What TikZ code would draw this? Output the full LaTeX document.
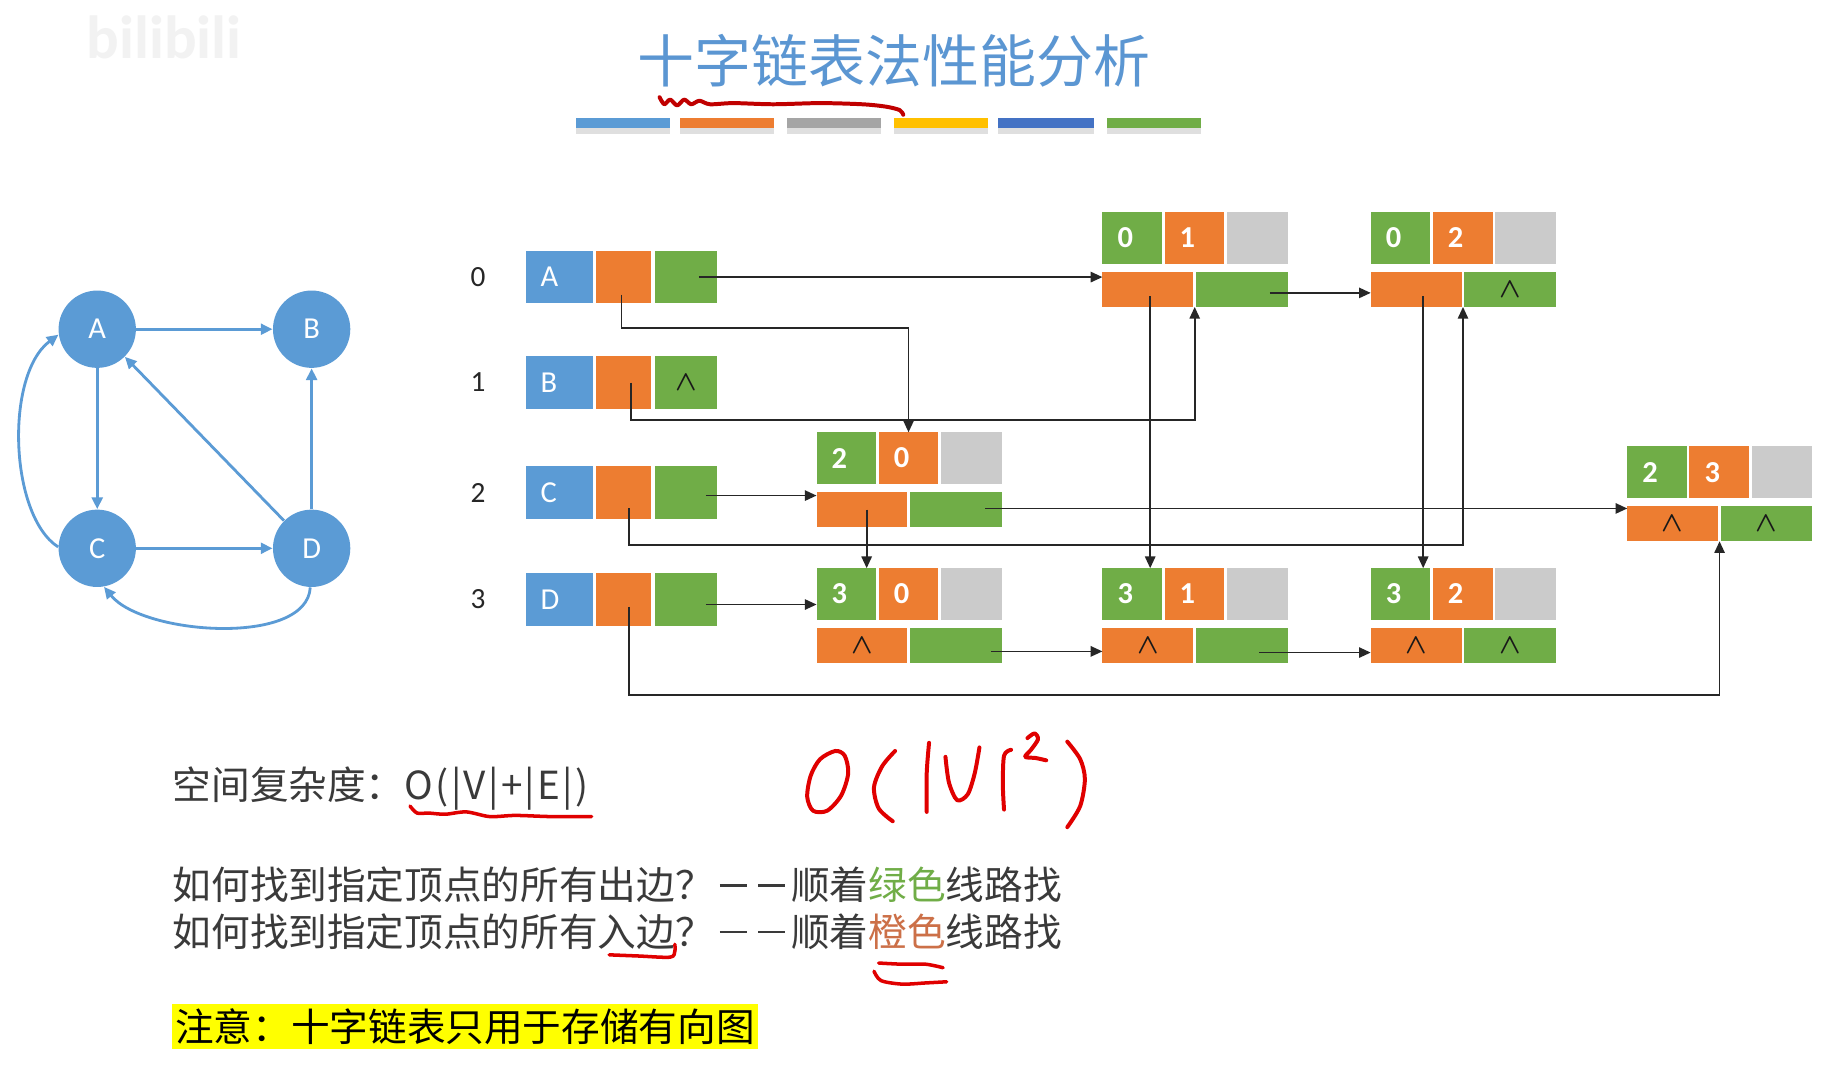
\documentclass[tikz,border=0pt]{standalone}
\usepackage{fontspec}
\setmainfont{Carlito}
\newfontfamily\cjk{Noto Sans CJK SC}
\usetikzlibrary{arrows.meta,calc}
\definecolor{cblue}{HTML}{5B9BD5}
\definecolor{corange}{HTML}{ED7D31}
\definecolor{cgreen}{HTML}{70AD47}
\definecolor{cgray}{HTML}{CBCBCB}
\definecolor{bargray}{HTML}{A5A5A5}
\definecolor{cyellow}{HTML}{FFC000}
\definecolor{cdblue}{HTML}{4472C4}
\definecolor{titleblue}{HTML}{5B96D2}
\definecolor{inkred}{HTML}{E00000}
\definecolor{inkdark}{HTML}{C00000}
\definecolor{txtgray}{HTML}{3A3A3A}
\definecolor{hlyellow}{HTML}{FFFF00}
\definecolor{txtgreen}{HTML}{70AD47}
\definecolor{txtorange}{HTML}{CC7048}
\definecolor{wmark}{HTML}{F2F2F2}

\newcommand\cdash{\makebox[1em][c]{\rule[0.33em]{0.7em}{0.065em}}}

\tikzset{
  cellsty/.style={rectangle, inner sep=0pt, outer sep=0pt, draw=none},
  lettersty/.style={inner sep=0pt, text=white, font=\fontsize{13}{15}\selectfont},
  numsty/.style={inner sep=0pt, text=white, font=\bfseries\fontsize{13}{15}\selectfont},
  idxsty/.style={inner sep=0pt, text=black!85, font=\fontsize{12.5}{15}\selectfont},
  nilsty/.style={inner sep=0pt, text=black!90, font=\boldmath\fontsize{11.5}{13}\selectfont},
  conn/.style={draw=black!85, line width=0.75pt, -{Triangle[length=5pt,width=4.4pt]}},
  gnode/.style={circle, fill=cblue, minimum size=33pt, inner sep=0pt, text=white, font=\fontsize{13}{15}\selectfont},
  gedge/.style={draw=cblue, line width=1.2pt, -{Triangle[length=5pt,width=4.6pt]}},
  cjktext/.style={inner sep=0pt, anchor=west, text=txtgray, font=\cjk\fontsize{16.5}{20}\selectfont},
  ink/.style={draw=inkred, line width=1.5pt, line cap=round, line join=round},
  barsty/.style={rectangle, inner sep=0pt, outer sep=0pt, minimum height=4pt},
}

\newcommand\cellbox[6]{%
  \node[cellsty, fill=#6, minimum width={(#4)*0.5pt}, minimum height={(#5)*0.5pt}] (#1) at ({#2+(#4)/2},{#3+(#5)/2}) {};}

\newcommand\edgenode[5]{%
  \cellbox{#1t}{#2}{#3}{51}{44}{cgreen}
  \cellbox{#1h}{#2+53}{#3}{51}{44}{corange}
  \cellbox{#1g}{#2+106}{#3}{52}{44}{cgray}
  \cellbox{#1hl}{#2}{#3+51}{77.5}{30}{corange}
  \cellbox{#1tl}{#2+80}{#3+51}{78}{30}{cgreen}
  \node[numsty] (#1tn) at ([shift={(-6,0)}]#1t.center) {#4};
  \node[numsty] (#1hn) at ([shift={(-6,0)}]#1h.center) {#5};
  \coordinate (#1d) at ($(#1hl.south east)!.5!(#1tl.south west)$);
}

\newcommand\vertexrow[4]{%
  \cellbox{#1d}{449}{#2}{57}{45}{cblue}
  \cellbox{#1i}{509}{#2}{47}{45}{corange}
  \cellbox{#1o}{559}{#2}{53}{45}{cgreen}
  \node[lettersty, anchor=west] (#1dn) at ([shift={(12,0)}]#1d.west) {#3};
  \node[idxsty] (#1n) at (408,{#2+22.5}) {#4};
}

\begin{document}
\begin{tikzpicture}[x=0.5pt, y=-0.5pt]
\useasboundingbox (0,0) rectangle (1568,921);
\fill[white] (0,0) rectangle (1568,921);

% watermark
\node[inner sep=0pt, text=wmark, font=\bfseries\fontsize{26}{28}\selectfont] (wm) at (140,32) {bilibili};

% title
\node[inner sep=0pt, text=titleblue, font=\cjk\fontsize{24.3}{28}\selectfont] (title) at (763,52) {十字链表法性能分析};
\draw[ink, draw=inkdark, line width=1.7pt] plot[smooth] coordinates {(563,83) (567,89) (572,85) (578,90) (584,85) (590,89) (597,86) (606,89) (626,88) (660,89) (700,88) (736,89) (756,91) (768,94) (771,98)};

% colour bars
\foreach \xa/\xb/\cc [count=\i] in {492/572/cblue, 580/661/corange, 672/752/bargray, 763/843/cyellow, 852/934/cdblue, 945/1025/cgreen}{
  \fill[gray!25] (\xa,109) rectangle (\xb,114);
  \node[barsty, fill=\cc, minimum width={(\xb-\xa)*0.5pt}, anchor=north west] (bar\i) at (\xa,101) {};
}

% graph
\node[gnode] (A) at (83,281) {A};
\node[gnode] (B) at (266,281) {B};
\node[gnode] (C) at (83,468) {C};
\node[gnode] (D) at (266,468) {D};
\draw[gedge] (A.east) -- (B.west);
\draw[gedge] (A.south) -- (C.north);
\draw[gedge] (C.east) -- (D.west);
\draw[gedge] (D.north) -- (B.south);
\draw[gedge] (D.135) -- (A.-45);
\draw[gedge] (C.178) .. controls (8,440) and (4,320) .. (A.188);
\draw[gedge] (D.-92) .. controls (262,552) and (122,542) .. (C.-80);

% vertex table
\vertexrow{v0}{214}{A}{0}
\vertexrow{v1}{304}{B}{1}
\vertexrow{v2}{398}{C}{2}
\vertexrow{v3}{489}{D}{3}
\node[nilsty] (v1on) at (v1o.center) {$\wedge$};

% edge nodes
\edgenode{e01}{941}{181}{0}{1}
\edgenode{e02}{1170}{181}{0}{2}
\edgenode{e20}{697}{369}{2}{0}
\edgenode{e23}{1389}{381}{2}{3}
\edgenode{e30}{697}{485}{3}{0}
\edgenode{e31}{941}{485}{3}{1}
\edgenode{e32}{1170}{485}{3}{2}
\node[nilsty] (e02tln) at (e02tl.center) {$\wedge$};
\node[nilsty] (e23hln) at (e23hl.center) {$\wedge$};
\node[nilsty] (e23tln) at (e23tl.center) {$\wedge$};
\node[nilsty] (e30hln) at (e30hl.center) {$\wedge$};
\node[nilsty] (e31hln) at (e31hl.center) {$\wedge$};
\node[nilsty] (e32hln) at (e32hl.center) {$\wedge$};
\node[nilsty] (e32tln) at (e32tl.center) {$\wedge$};

% level coordinates
\coordinate (yA) at (0,280);
\coordinate (yB) at (0,358.5);
\coordinate (yC) at (0,465);
\coordinate (yD) at (0,593);

% out-links from vertices (green)
\coordinate (s0) at ([shift={(11,0)}]v0o.center);
\draw[conn] (s0) -- (s0 -| e01hl.west);
\coordinate (s2) at ([shift={(17,2.5)}]v2o.center);
\draw[conn] (s2) -- (s2 -| e20hl.west);
\coordinate (s3) at ([shift={(17,4.5)}]v3o.center);
\draw[conn] (s3) -- (s3 -| e30t.west);

% in-links from vertices (orange)
\coordinate (i0) at ([shift={(-2,15)}]v0i.center);
\draw[conn] (i0) |- (e20h.north |- yA) -- (e20h.north);
\coordinate (i1) at ([shift={(6,0)}]v1i.center);
\draw[conn] (i1) |- (e01d |- yB) -- (e01d);
\coordinate (i2) at ([shift={(4.5,13.5)}]v2i.center);
\draw[conn] (i2) |- (e02d |- yC) -- (e02d);
\coordinate (i3) at ([shift={(4.5,6.5)}]v3i.center);
\draw[conn] (i3) |- (e23d |- yD) -- (e23d);

% links between edge nodes
\coordinate (a1) at ([shift={(24,3)}]e01tl.center);
\draw[conn] (a1) -- (a1 -| e02hl.west);
\coordinate (a2) at ([shift={(2,6)}]e01hl.center);
\draw[conn] (a2) -- (a2 |- e31t.north);
\coordinate (a3) at ([shift={(6,6)}]e02hl.center);
\draw[conn] (a3) -- (a3 |- e32t.north);
\coordinate (a4) at ([shift={(4,0)}]e20hl.center);
\draw[conn] (a4) -- (a4 |- e30t.north);
\coordinate (a5) at ([shift={(25,-1)}]e20tl.center);
\draw[conn] (a5) -- (a5 -| e23hl.west);
\coordinate (a6) at ([shift={(30,5)}]e30tl.center);
\draw[conn] (a6) -- (a6 -| e31hl.west);
\coordinate (a7) at ([shift={(15,6)}]e31tl.center);
\draw[conn] (a7) -- (a7 -| e32hl.west);

% text
\node[cjktext] (space) at (147,673) {空间复杂度：{\addfontfeatures{LetterSpace=6}O(|V|+|E|)}};
\node[cjktext] (qout) at (147,755) {如何找到指定顶点的所有出边？\cdash\cdash 顺着{\color{txtgreen}绿色}线路找};
\node[cjktext] (qin) at (147,795) {如何找到指定顶点的所有入边？\cdash\cdash 顺着{\color{txtorange}橙色}线路找};
\node[cjktext, fill=hlyellow, text=black, inner xsep=1.5pt, minimum height=19pt] (note) at (146,876) {注意：十字链表只用于存储有向图};

% handwritten red ink
\draw[ink] plot[smooth] coordinates {(350,688) (356,694) (366,694) (380,695) (398,693) (418,697) (440,696) (470,697) (505,697)};
\draw[ink] plot[smooth] coordinates {(520,815) (545,816) (572,817) (576,812) (576,806)};
\draw[ink] plot[smooth] coordinates {(750,822) (770,823) (790,823) (805,826)};
\draw[ink] plot[smooth] coordinates {(746,829) (752,837) (770,840) (790,839) (808,838)};
% O(|V|^2)
\draw[ink, line width=1.7pt] plot[smooth cycle] coordinates {(713,641) (721,645) (724,660) (718,679) (706,692) (694,692) (689,680) (692,662) (700,648)};
\draw[ink, line width=1.7pt] plot[smooth] coordinates {(764,641) (753,654) (746,672) (750,690) (762,701)};
\draw[ink, line width=1.7pt] plot[smooth] coordinates {(793,634) (791,660) (791,693)};
\draw[ink, line width=1.7pt] plot[smooth] coordinates {(807,646) (810,668) (817,683) (826,678) (832,660) (836,638)};
\draw[ink, line width=1.7pt] plot[smooth] coordinates {(863,640) (857,645) (856,670) (857,691)};
\draw[ink, line width=1.7pt] plot[smooth] coordinates {(877,630) (883,626) (886,631) (880,640) (875,646) (884,647) (893,649)};
\draw[ink, line width=1.7pt] plot[smooth] coordinates {(911,633) (922,648) (926,665) (922,688) (911,706)};
\end{tikzpicture}
\end{document}
